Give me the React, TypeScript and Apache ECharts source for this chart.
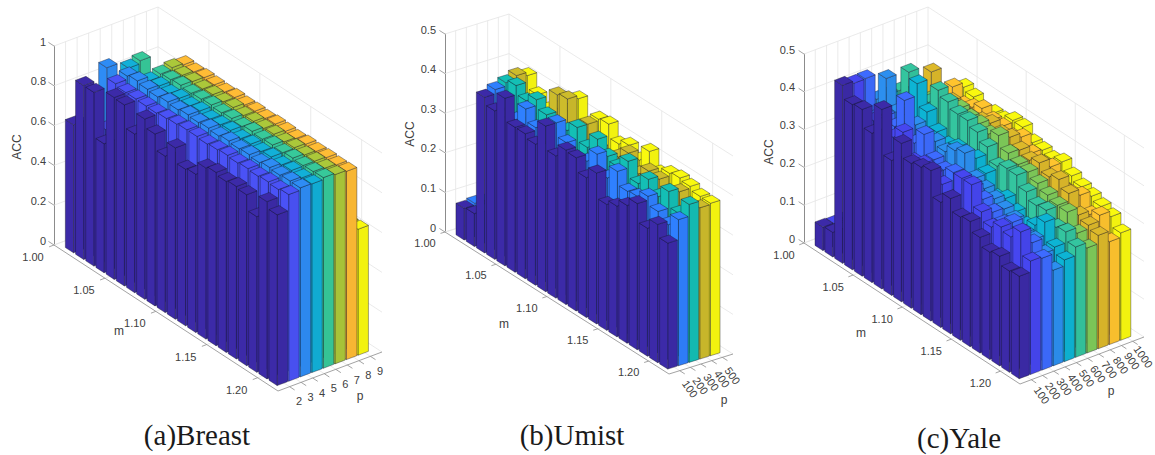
import React, { useEffect, useRef } from "react";
import * as echarts from "echarts";

const mTicks = ["1.00", "1.05", "1.10", "1.15", "1.20"];
const breastP = ["2", "3", "4", "5", "6", "7", "8", "9"];
const umistP = ["100", "200", "300", "400", "500"];
const yaleP = ["100", "200", "300", "400", "500", "600", "700", "800", "900", "1000"];
const breastZ = { max: 1, interval: 0.2 };
const umistZ = { max: 0.5, interval: 0.1 };
const yaleZ = { max: 0.5, interval: 0.1 };

const breastColors = ["#3C2AA8", "#4A52F6", "#2E8CF5", "#12B0D8", "#37C99A", "#ABC83A", "#FFBC35", "#F9F90F"];
const umistColors = ["#3C2AA8", "#2F80FF", "#14BFB5", "#CDBC2B", "#F9F90F"];
const yaleColors = ["#3C2AA8", "#4646F0", "#3D6BFF", "#2C8FEF", "#0DB4D4", "#34C59F", "#7FCB5A", "#DDB92A", "#FFC42E", "#F9F90F"];

// ACC per p column, each listing the 21 m values from 1.00 to 1.20
const breastAcc = [
  [.643, .874, .873, .648, .914, .91, .797, .906, .864, .786, .861, .787, .795, .86, .871, .859, .867, .859, .782, .891, .858],
  [.62, .63, .665, .928, .917, .918, .916, .914, .92, .925, .93, .93, .925, .93, .935, .93, .935, .93, .935, .93, .938],
  [.60, .92, .62, .945, .954, .945, .94, .948, .942, .95, .945, .95, .944, .952, .946, .95, .943, .952, .947, .951, .95],
  [.60, .61, .93, .62, .932, .94, .935, .945, .94, .948, .94, .945, .95, .942, .948, .944, .95, .943, .949, .945, .948],
  [.60, .61, .945, .62, .945, .95, .955, .948, .952, .956, .95, .955, .948, .957, .951, .955, .95, .956, .952, .955, .958],
  [.58, .59, .60, .61, .955, .95, .952, .948, .953, .95, .955, .948, .952, .95, .954, .949, .953, .95, .952, .95, .951],
  [.58, .59, .60, .61, .948, .945, .95, .947, .944, .95, .946, .948, .945, .95, .947, .944, .949, .946, .948, .945, .946],
  [.60, .61, .62, .62, .63, .62, .63, .64, .63, .62, .63, .64, .63, .63, .62, .63, .64, .63, .62, .63, .633],
];
const umistAcc = [
  [.08, .083, .393, .375, .423, .366, .366, .356, .418, .359, .39, .387, .353, .381, .318, .33, .348, .369, .323, .349, .318],
  [.084, .08, .404, .35, .36, .404, .373, .33, .418, .384, .36, .37, .404, .36, .393, .359, .362, .379, .357, .34, .369],
  [.08, .08, .413, .422, .40, .419, .397, .38, .39, .414, .38, .417, .39, .38, .41, .37, .397, .37, .399, .36, .399],
  [.08, .08, .4225, .35, .36, .37, .439, .445, .38, .414, .37, .36, .38, .406, .37, .393, .389, .37, .39, .37, .382],
  [.08, .08, .414, .382, .36, .38, .39, .437, .38, .418, .422, .388, .401, .38, .418, .38, .395, .40, .395, .386, .385],
];
const yaleAcc = [
  [.062, .065, .471, .437, .441, .395, .475, .357, .419, .383, .39, .398, .331, .358, .326, .331, .306, .284, .29, .268, .271],
  [.06, .06, .465, .38, .40, .37, .39, .42, .36, .37, .36, .35, .33, .40, .40, .345, .322, .339, .33, .36, .30],
  [.06, .06, .466, .38, .40, .39, .476, .38, .42, .37, .36, .37, .34, .365, .35, .333, .32, .34, .31, .32, .296],
  [.06, .06, .40, .472, .40, .39, .40, .38, .39, .38, .40, .41, .36, .35, .34, .33, .32, .30, .30, .28, .253],
  [.06, .06, .40, .38, .39, .481, .423, .387, .37, .38, .36, .385, .362, .316, .33, .311, .293, .31, .335, .286, .269],
  [.06, .06, .40, .466, .41, .42, .469, .455, .44, .44, .426, .404, .37, .381, .38, .353, .334, .338, .31, .315, .292],
  [.06, .06, .38, .38, .40, .41, .42, .427, .42, .42, .41, .423, .393, .38, .377, .364, .35, .34, .339, .30, .278],
  [.06, .06, .36, .444, .38, .40, .39, .39, .40, .41, .40, .407, .39, .38, .39, .37, .38, .36, .32, .31, .30],
  [.06, .06, .36, .36, .41, .38, .39, .404, .39, .39, .38, .396, .37, .36, .368, .332, .332, .344, .31, .325, .272],
  [.06, .06, .33, .34, .398, .389, .37, .38, .38, .395, .394, .37, .367, .36, .37, .35, .338, .33, .32, .31, .284],
];

const M_SPAN = 22;
const M_START = 0.65;
const M_WIDTH = 0.8;
const P_START = 0.41;
const P_WIDTH = 0.9;
const SANS = "Liberation Sans";
const GRID_W = 345;
const GRID_H = 455;

const panels = [
  {
    name: "(a)Breast", acc: breastAcc, colors: breastColors, pTicks: breastP, z: breastZ,
    left: [54, 245], front: [278, 391], right: [382, 352], zPx: 199,
    mOff: [-21, 12], pOff: [9.5, 14.5], pRot: 0, zRight: 8,
    mName: [119, 331], pName: [360, 396], accName: [17, 147], caption: [197, 435],
  },
  {
    name: "(b)Umist", acc: umistAcc, colors: umistColors, pTicks: umistP, z: umistZ,
    left: [445, 232], front: [669, 374], right: [733, 354], zPx: 198,
    mOff: [-20, 11], pOff: [10.3, 18.3], pRot: -55, zRight: 9,
    mName: [504, 324], pName: [724, 400], accName: [410, 134], caption: [572, 435],
  },
  {
    name: "(c)Yale", acc: yaleAcc, colors: yaleColors, pTicks: yaleP, z: yaleZ,
    left: [804, 243], front: [1020, 384], right: [1144, 337], zPx: 189,
    mOff: [-20, 12], pOff: [10.5, 15.5], pRot: -55, zRight: 9,
    mName: [861, 333], pName: [1111, 391], accName: [769, 152], caption: [959, 438],
  },
];

function shade(hex: string, f: number) {
  const n = parseInt(hex.slice(1), 16);
  const c = [(n >> 16) & 255, (n >> 8) & 255, n & 255].map((v) => Math.round(v * f));
  return `rgb(${c[0]},${c[1]},${c[2]})`;
}

function buildPanel(p: (typeof panels)[number], idx: number) {
  const span = p.pTicks.length + 1;
  const mv = [(p.front[0] - p.left[0]) / M_SPAN, (p.front[1] - p.left[1]) / M_SPAN];
  const pv = [(p.right[0] - p.front[0]) / span, (p.right[1] - p.front[1]) / span];
  const zUnit = p.zPx / p.z.max;
  // oblique projection of (m step, p step, value) to the projection grid's own axis units
  const project = (m: number, q: number, z: number) => [
    m * mv[0] + q * pv[0],
    p.left[1] + m * mv[1] + q * pv[1] - z * zUnit,
  ];
  const grids = [
    { left: p.left[0], top: 0, width: GRID_W, height: GRID_H, outerBoundsMode: "none" },
    { left: p.left[0], top: p.left[1] - p.zPx, width: 1, height: p.zPx, outerBoundsMode: "none" },
  ];
  const xAxes = [
    { gridIndex: idx * 2, type: "value", min: 0, max: GRID_W, show: false },
    { gridIndex: idx * 2 + 1, type: "value", min: 0, max: 1, show: false },
  ];
  const yAxes = [
    { gridIndex: idx * 2, type: "value", min: 0, max: GRID_H, inverse: true, show: false },
    {
      gridIndex: idx * 2 + 1, type: "value", min: 0, max: p.z.max, interval: p.z.interval,
      axisLine: { show: true, lineStyle: { color: "#8c8c8c", width: 1 } },
      axisTick: { show: false }, splitLine: { show: false },
      axisLabel: { color: "#404040", fontFamily: SANS, fontSize: 11, margin: p.zRight, verticalAlign: "bottom", lineHeight: 9 },
    },
  ];

  const mTickAt = mTicks.map((_, k) => k * 5);
  const pTickAt = p.pTicks.map((_, k) => k + 1);
  const zTickAt: number[] = [];
  for (let k = 0; k * p.z.interval <= p.z.max + 1e-9; k++) zTickAt.push(k * p.z.interval);

  const frame = {
    type: "custom", xAxisIndex: idx * 2, yAxisIndex: idx * 2, silent: true, z: 1, clip: false,
    data: [[0]],
    renderItem: (_: any, api: any) => {
      const pt = (m: number, q: number, z: number) => api.coord(project(m, q, z));
      const children: any[] = [];
      const line = (a: number[], b: number[], stroke: string, lineWidth = 0.8) =>
        children.push({
          type: "line", shape: { x1: a[0], y1: a[1], x2: b[0], y2: b[1] },
          style: { stroke, lineWidth },
        });
      const label = (text: string, x: number, y: number, rot = 0, size = 11) =>
        children.push({
          type: "text", x, y, rotation: (rot * Math.PI) / 180,
          style: { text, fill: "#404040", font: `${size}px ${SANS}`, align: "center", verticalAlign: "middle" },
        });
      const grid = "#e4e4e4";
      const axis = "#8c8c8c";
      for (const z of zTickAt) {
        line(pt(0, 0, z), pt(0, span, z), grid);
        line(pt(0, span, z), pt(M_SPAN, span, z), grid);
      }
      for (const k of pTickAt) {
        line(pt(0, k, 0), pt(0, k, p.z.max), grid);
        line(pt(0, k, 0), pt(M_SPAN, k, 0), grid);
      }
      for (const k of mTickAt) {
        line(pt(k, span, 0), pt(k, span, p.z.max), grid);
        line(pt(k, 0, 0), pt(k, span, 0), grid);
      }
      line(pt(0, 0, 0), pt(M_SPAN, 0, 0), axis);
      line(pt(M_SPAN, 0, 0), pt(M_SPAN, span, 0), axis);
      for (const z of zTickAt) line(pt(0, 0, z), pt(-0.55, 0, z), axis);
      mTickAt.forEach((k, n) => {
        const a = pt(k, 0, 0);
        line(a, pt(k, -0.42, 0), axis);
        label(mTicks[n], a[0] + p.mOff[0], a[1] + p.mOff[1]);
      });
      pTickAt.forEach((k, n) => {
        const a = pt(M_SPAN, k, 0);
        line(a, pt(M_SPAN + 0.5, k, 0), axis);
        label(p.pTicks[n], a[0] + p.pOff[0], a[1] + p.pOff[1], p.pRot);
      });
      return { type: "group", children };
    },
  };

  const barData: number[][] = [];
  for (let i = 0; i < 21; i++) {
    for (let j = p.acc.length - 1; j >= 0; j--) barData.push([i, j, p.acc[j][i]]);
  }
  const bars = {
    type: "custom", xAxisIndex: idx * 2, yAxisIndex: idx * 2, silent: true, z: 2, clip: false,
    data: barData,
    renderItem: (_: any, api: any) => {
      const i = api.value(0);
      const j = api.value(1);
      const v = api.value(2);
      const m0 = M_START + i;
      const m1 = m0 + M_WIDTH;
      const q0 = P_START + j;
      const q1 = q0 + P_WIDTH;
      const pt = (m: number, q: number, z: number) => api.coord(project(m, q, z));
      const color = p.colors[j];
      const stroke = "rgba(20,20,40,0.55)";
      const face = (points: number[][], fill: string) => ({
        type: "polygon", shape: { points }, style: { fill, stroke, lineWidth: 0.7 },
      });
      return {
        type: "group",
        children: [
          face([pt(m1, q0, 0), pt(m1, q1, 0), pt(m1, q1, v), pt(m1, q0, v)], shade(color, 0.97)),
          face([pt(m0, q0, 0), pt(m1, q0, 0), pt(m1, q0, v), pt(m0, q0, v)], color),
          face([pt(m0, q0, v), pt(m1, q0, v), pt(m1, q1, v), pt(m0, q1, v)], color),
        ],
      };
    },
  };

  const texts = [
    { type: "text", x: p.mName[0], y: p.mName[1], style: { text: "m", fill: "#404040", font: `12px ${SANS}`, align: "center", verticalAlign: "middle" } },
    { type: "text", x: p.pName[0], y: p.pName[1], style: { text: "p", fill: "#404040", font: `12px ${SANS}`, align: "center", verticalAlign: "middle" } },
    { type: "text", x: p.accName[0], y: p.accName[1], rotation: Math.PI / 2, style: { text: "ACC", fill: "#404040", font: `12px ${SANS}`, align: "center", verticalAlign: "middle" } },
    { type: "text", x: p.caption[0], y: p.caption[1], style: { text: p.name, fill: "#1a1a1a", font: "29px Liberation Serif", align: "center", verticalAlign: "middle" } },
  ];
  return { grids, xAxes, yAxes, series: [frame, bars], texts };
}

export default function App() {
  const ref = useRef<HTMLDivElement>(null);
  useEffect(() => {
    document.body.style.margin = "0";
    const chart = echarts.init(ref.current!, undefined, { renderer: "svg" });
    const built = panels.map(buildPanel);
    chart.setOption({
      animation: false,
      backgroundColor: "#ffffff",
      grid: built.flatMap((b) => b.grids),
      xAxis: built.flatMap((b) => b.xAxes),
      yAxis: built.flatMap((b) => b.yAxes),
      series: built.flatMap((b) => b.series),
      graphic: { elements: built.flatMap((b) => b.texts) },
    });
    return () => chart.dispose();
  }, []);
  return <div ref={ref} style={{ position: "absolute", left: 0, top: 0, width: 1155, height: 455 }} />;
}
